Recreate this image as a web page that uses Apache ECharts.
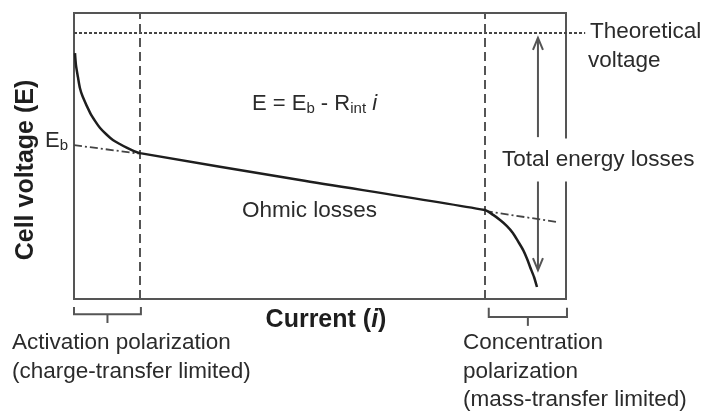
<!DOCTYPE html>
<html>
<head>
<meta charset="utf-8">
<script src="https://cdn.jsdelivr.net/npm/echarts@6/dist/echarts.min.js"></script>
<style>
  html, body { margin: 0; padding: 0; background: #fff; }
  #chart { width: 705px; height: 412px; }
</style>
</head>
<body>
<div id="chart"></div>
<script>
// polarization curve (current vs cell voltage, arbitrary units 0-100)
var currentVals = [0.2, 0.4, 0.8, 1.2, 1.8, 3.3, 4.3, 5.3, 6.5, 7.9, 9.3, 10.8, 12.2, 13.4,
  45.9, 83.5, 85.2, 86.6, 88.0, 89.2, 90.2, 91.3, 92.1, 92.7, 93.5, 94.1];
var voltageVals = [86.0, 81.8, 77.6, 73.8, 70.6, 65.0, 62.2, 59.8, 57.7, 55.6, 54.2, 52.8, 51.7, 51.0,
  41.6, 31.1, 29.4, 27.6, 25.5, 23.1, 20.3, 17.1, 14.0, 11.2, 7.7, 4.2];
// Eb extrapolation (dash-dot)
var ebLeftX = [0, 13.4];
var ebLeftY = [53.8, 50.8];
var ebRightX = [83.5, 98.2];
var ebRightY = [30.8, 26.9];
// theoretical voltage
var theoX = [0, 103.9];
var theoY = [93.0, 93.0];
// region dividers
var dividers = [13.4, 83.5];
// total energy loss arrows: [x, from, to]
var arrows = [[94.3, 56.6, 91.3], [94.3, 41.3, 10.1]];
// brackets: [x1, x2, yTop, yBar, yTick]
var brackets = [[0, 13.6, -2.8, -5.3, -8.4], [84.3, 100.2, -3.1, -6.3, -9.4]];

function pairs(xs, ys) {
  return xs.map(function (x, i) { return [x, ys[i]]; });
}

var textColor = '#2b2b2b';
var lineColor = '#555';
var font = 'Liberation Sans, Arial, sans-serif';

var myChart = echarts.init(document.getElementById('chart'));

var option = {
  backgroundColor: '#fff',
  animation: false,
  grid: {
    left: 74, top: 13, width: 492, height: 286,
    show: true, borderColor: lineColor, borderWidth: 2
  },
  xAxis: { type: 'value', min: 0, max: 100, show: false },
  yAxis: { type: 'value', min: 0, max: 100, show: false },
  series: [
    {
      name: 'curve',
      type: 'line',
      data: pairs(currentVals, voltageVals),
      smooth: 0.25,
      symbol: 'none',
      lineStyle: { color: '#1e1e1e', width: 2.5 },
      z: 5,
      markLine: {
        silent: true,
        symbol: 'none',
        label: { show: false },
        lineStyle: { color: lineColor, width: 2, type: [9, 5] },
        data: dividers.map(function (d) { return { xAxis: d }; })
      }
    },
    {
      name: 'ebLeft',
      type: 'line',
      data: pairs(ebLeftX, ebLeftY),
      symbol: 'none',
      lineStyle: { color: '#444', width: 1.8, type: [8, 3, 2, 3] }
    },
    {
      name: 'ebRight',
      type: 'line',
      data: pairs(ebRightX, ebRightY),
      symbol: 'none',
      lineStyle: { color: '#444', width: 1.8, type: [8, 3, 2, 3] }
    },
    {
      name: 'theoretical',
      type: 'custom',
      data: [[theoX[0], theoY[0], theoX[1], theoY[1]]],
      renderItem: function (params, api) {
        var p1 = api.coord([api.value(0), api.value(1)]);
        var p2 = api.coord([api.value(2), api.value(3)]);
        return {
          type: 'line',
          shape: { x1: p1[0], y1: p1[1], x2: p2[0], y2: p2[1] },
          style: { stroke: '#444', lineWidth: 1.8, lineDash: [3, 2] }
        };
      }
    },
    {
      name: 'arrows',
      type: 'custom',
      data: arrows,
      renderItem: function (params, api) {
        var p1 = api.coord([api.value(0), api.value(1)]);
        var p2 = api.coord([api.value(0), api.value(2)]);
        var dir = p2[1] < p1[1] ? 1 : -1;
        return {
          type: 'group',
          children: [
            { type: 'line', shape: { x1: p1[0], y1: p1[1], x2: p2[0], y2: p2[1] },
              style: { stroke: lineColor, lineWidth: 2 } },
            { type: 'polyline', shape: { points: [[p2[0] - 5, p2[1] + dir * 12], [p2[0], p2[1]], [p2[0] + 5, p2[1] + dir * 12]] },
              style: { stroke: lineColor, lineWidth: 2, fill: null } }
          ]
        };
      }
    },
    {
      name: 'brackets',
      type: 'custom',
      data: brackets,
      renderItem: function (params, api) {
        var a = api.coord([api.value(0), api.value(2)]);
        var b = api.coord([api.value(0), api.value(3)]);
        var c = api.coord([api.value(1), api.value(3)]);
        var d = api.coord([api.value(1), api.value(2)]);
        var xm = (b[0] + c[0]) / 2;
        var t = api.coord([0, api.value(4)]);
        return {
          type: 'group',
          children: [
            { type: 'polyline', shape: { points: [a, b, c, d] },
              style: { stroke: lineColor, lineWidth: 2, fill: null } },
            { type: 'line', shape: { x1: xm, y1: b[1], x2: xm, y2: t[1] },
              style: { stroke: lineColor, lineWidth: 2 } }
          ]
        };
      }
    }
  ],
  graphic: [
    { type: 'text', x: 26, y: 170, rotation: Math.PI / 2,
      style: { text: 'Cell voltage (E)', font: 'bold 25px ' + font, fill: '#1e1e1e', align: 'center', verticalAlign: 'middle' } },
    { type: 'text', x: 326, y: 320,
      style: {
        text: '{b|Current (}{i|i}{b|)}', align: 'center', verticalAlign: 'middle',
        rich: {
          b: { font: 'bold 25px ' + font, fill: '#1e1e1e' },
          i: { font: 'italic bold 25px ' + font, fill: '#1e1e1e' }
        }
      } },
    { type: 'text', x: 45, y: 141,
      style: {
        text: '{n|E}{s|b}', verticalAlign: 'middle',
        rich: {
          n: { font: '22px ' + font, fill: textColor },
          s: { font: '15px ' + font, fill: textColor, padding: [10, 0, 0, 0] }
        }
      } },
    { type: 'text', x: 252, y: 104,
      style: {
        text: '{n|E = E}{s|b}{n| - R}{s|int}{n| }{i|i}', verticalAlign: 'middle',
        rich: {
          n: { font: '22px ' + font, fill: textColor },
          s: { font: '15px ' + font, fill: textColor, padding: [10, 0, 0, 0] },
          i: { font: 'italic 22px ' + font, fill: textColor }
        }
      } },
    { type: 'text', x: 242, y: 211,
      style: { text: 'Ohmic losses', font: '22.5px ' + font, fill: textColor, verticalAlign: 'middle' } },
    { type: 'text', x: 590, y: 32,
      style: { text: 'Theoretical', font: '22.5px ' + font, fill: textColor, verticalAlign: 'middle' } },
    { type: 'text', x: 588, y: 61,
      style: { text: 'voltage', font: '22.5px ' + font, fill: textColor, verticalAlign: 'middle' } },
    { type: 'text', x: 500, y: 160, z: 100,
      style: { text: 'Total energy losses', font: '22.5px ' + font, fill: textColor, verticalAlign: 'middle',
        backgroundColor: '#fff', padding: [10, 2, 10, 2] } },
    { type: 'text', x: 12, y: 343,
      style: { text: 'Activation polarization', font: '22.5px ' + font, fill: textColor, verticalAlign: 'middle' } },
    { type: 'text', x: 12, y: 372,
      style: { text: '(charge-transfer limited)', font: '22.5px ' + font, fill: textColor, verticalAlign: 'middle' } },
    { type: 'text', x: 463, y: 343,
      style: { text: 'Concentration', font: '22.5px ' + font, fill: textColor, verticalAlign: 'middle' } },
    { type: 'text', x: 463, y: 372,
      style: { text: 'polarization', font: '22.5px ' + font, fill: textColor, verticalAlign: 'middle' } },
    { type: 'text', x: 463, y: 400,
      style: { text: '(mass-transfer limited)', font: '22.5px ' + font, fill: textColor, verticalAlign: 'middle' } }
  ]
};

myChart.setOption(option);
</script>
</body>
</html>
